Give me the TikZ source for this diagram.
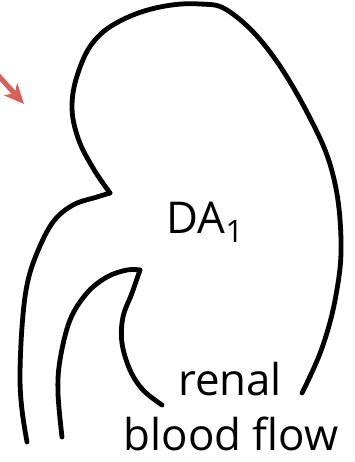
\documentclass[tikz,border=0pt]{standalone}
\usepackage{fontspec}
\setmainfont{Open Sans}
\usetikzlibrary{arrows.meta}
\definecolor{arrowred}{RGB}{214,96,92}
\tikzset{
  outline/.style={line width=4.8bp, line cap=round, line join=round, black},
  label/.style={font=\fontsize{44}{44}\selectfont, inner sep=0pt, anchor=base},
  pointer/.style={arrowred, line width=5bp, -{Stealth[length=20bp,width=18bp,inset=6bp]}}
}
\begin{document}
\begin{tikzpicture}[x=1bp, y=-1bp]
  \useasboundingbox (0,0) rectangle (354,462);
  \fill[white] (0,0) rectangle (354,462);

  % outer contour of the kidney, from the lower right end round the top to the hilum notch
  \draw[outline] plot[smooth, tension=0.65] coordinates {
    (302,393) (322,348) (336,295) (341,240) (333,175) (310,118)
    (270,52) (230,12) (200,4) (160,7) (122,20) (95,40) (79,70)
    (72,105) (78,138) (93,168) (110,193)};
  % from the notch down the left side
  \draw[outline] plot[smooth, tension=0.6] coordinates {
    (110,193) (97,197) (73,205) (53,222) (37,253) (27,285) (22,327)
    (20,377) (22,410) (27,442)};
  % inner vessel line, up to its tip and back down into the hilum
  \draw[outline] plot[smooth, tension=0.6] coordinates {
    (62,437) (58,393) (60,360) (70,320) (87,293) (107,277) (127,270) (140,270)};
  \draw[outline] plot[smooth, tension=0.6] coordinates {
    (140,270) (132,293) (123,317) (122,343) (130,370) (143,390) (162,405)};

  % labels
  \node[label] (da) at (205,233) {DA{\fontsize{31}{31}\selectfont\raisebox{-9bp}{1}}};
  \node[label] (renal) at (230,395) {renal};
  \node[label] (flow) at (231,450) {blood flow};

  % incoming arrow at the upper left
  \coordinate (arrowstart) at (-14,62);
  \coordinate (arrowtip) at (24,104);
  \draw[pointer] (arrowstart) -- (arrowtip);
\end{tikzpicture}
\end{document}
